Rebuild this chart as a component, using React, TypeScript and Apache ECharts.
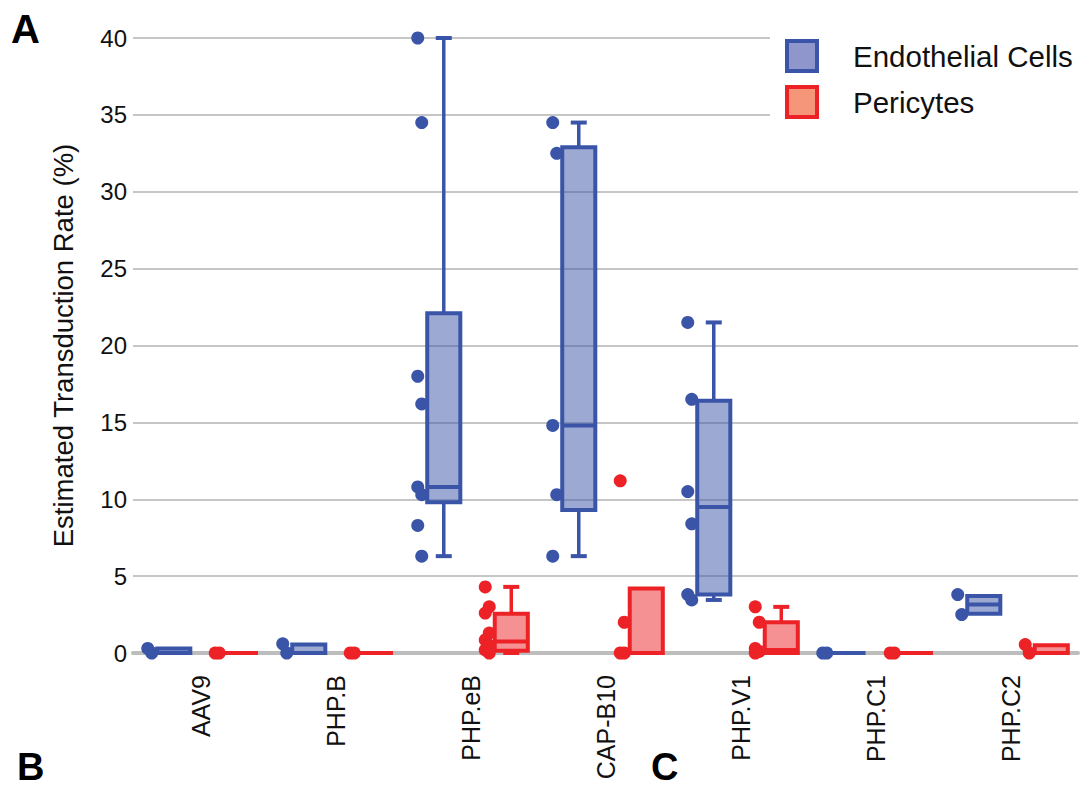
import React, { useEffect, useRef } from "react";
import * as echarts from "echarts";

// Capsid variants on the x axis
const categories = ["AAV9", "PHP.B", "PHP.eB", "CAP-B10", "PHP.V1", "PHP.C1", "PHP.C2"];

// Box summaries per variant: [min, q1, median, q3, max] (%)
const endothelialBoxes = [
  [0, 0, 0, 0.3, 0.3],
  [0, 0, 0, 0.55, 0.55],
  [6.3, 9.8, 10.8, 22.1, 40],
  [6.3, 9.3, 14.8, 32.9, 34.5],
  [3.45, 3.8, 9.5, 16.4, 21.5],
  [0, 0, 0, 0, 0],
  [2.55, 2.55, 3.15, 3.7, 3.7],
];
const pericyteBoxes = [
  [0, 0, 0, 0, 0],
  [0, 0, 0, 0, 0],
  [0, 0.15, 0.75, 2.55, 4.3],
  [0, 0, 0, 4.2, 4.2],
  [0, 0, 0.2, 2.0, 3.0],
  [0, 0, 0, 0, 0],
  [0, 0, 0, 0.5, 0.5],
];

// Individual measurements per variant (%)
const endothelialPoints = [
  [0.3, 0],
  [0.6, 0],
  [40, 34.5, 18, 16.2, 10.8, 10.3, 8.3, 6.3],
  [34.5, 32.5, 14.8, 10.3, 6.3],
  [21.5, 16.5, 10.5, 8.4, 3.8, 3.45],
  [0, 0],
  [3.8, 2.5],
];
const pericytePoints = [
  [0, 0],
  [0, 0],
  [4.3, 3.0, 2.6, 1.3, 0.85, 0.5, 0.2, 0],
  [11.2, 2.0, 0, 0],
  [3.0, 2.0, 0.3, 0.1, 0],
  [0, 0],
  [0.55, 0],
];

const yMin = 0;
const yMax = 40;
const yStep = 5;

const FONT = "'Liberation Sans', Arial, Helvetica, sans-serif";
const BLUE = "#3a55a8";
const BLUE_FILL = "rgba(58,85,168,0.5)";
const RED = "#ec2227";
const RED_FILL = "rgba(236,34,39,0.5)";

// side: -1 for the left group (endothelial), +1 for the right group (pericytes)
function makeBoxRenderer(side: number, stroke: string, fill: string) {
  return (_params: any, api: any) => {
    const idx = api.value(0);
    const band = api.size([1, 0])[0];
    const cx = api.coord([idx, 0])[0] + (side * band) / 4 + band * 0.052;
    const w = band * 0.245;
    const yOf = (v: number) => api.coord([idx, v])[1];
    const vMin = api.value(1);
    const q1 = api.value(2);
    const med = api.value(3);
    const q3 = api.value(4);
    const vMax = api.value(5);
    const capHalf = 8;
    const children: any[] = [];
    if (vMax > q3) {
      children.push({
        type: "line",
        shape: { x1: cx, y1: yOf(q3), x2: cx, y2: yOf(vMax) },
        style: { stroke, lineWidth: 3.5 },
      });
      children.push({
        type: "line",
        shape: { x1: cx - capHalf, y1: yOf(vMax), x2: cx + capHalf, y2: yOf(vMax) },
        style: { stroke, lineWidth: 4 },
      });
    }
    if (vMin < q1) {
      children.push({
        type: "line",
        shape: { x1: cx, y1: yOf(q1), x2: cx, y2: yOf(vMin) },
        style: { stroke, lineWidth: 3.5 },
      });
      children.push({
        type: "line",
        shape: { x1: cx - capHalf, y1: yOf(vMin), x2: cx + capHalf, y2: yOf(vMin) },
        style: { stroke, lineWidth: 4 },
      });
    }
    const top = yOf(q3);
    const bottom = yOf(q1);
    children.push({
      type: "rect",
      shape: { x: cx - w / 2, y: top, width: w, height: bottom - top },
      style: { fill, stroke, lineWidth: 4 },
    });
    children.push({
      type: "line",
      shape: { x1: cx - w / 2, y1: yOf(med), x2: cx + w / 2, y2: yOf(med) },
      style: { stroke, lineWidth: 4 },
    });
    return { type: "group", children };
  };
}

function makePointRenderer(side: number, color: string) {
  return (_params: any, api: any) => {
    const idx = api.value(0);
    const j = api.value(2);
    const band = api.size([1, 0])[0];
    const base = api.coord([idx, api.value(1)]);
    const jitter = j % 2 === 0 ? -2 : 2;
    const cx = base[0] + (side * band) / 4 - band * 0.126 + jitter;
    return {
      type: "circle",
      shape: { cx, cy: base[1], r: 6.5 },
      style: { fill: color },
    };
  };
}

function boxData(boxes: number[][]) {
  return boxes.map((b, i) => [i, ...b]);
}

function pointData(points: number[][]) {
  const out: number[][] = [];
  points.forEach((vals, i) => vals.forEach((v, j) => out.push([i, v, j])));
  return out;
}

// Panel letters, placed by their vertical centre
const panelLetter = (text: string, x: number, y: number, size: number) => ({
  type: "text",
  x,
  y,
  style: {
    text,
    fontSize: size,
    fontWeight: "bold",
    fill: "#000",
    fontFamily: FONT,
    align: "left",
    verticalAlign: "middle",
  },
});

export default function App() {
  const ref = useRef<HTMLDivElement>(null);

  useEffect(() => {
    if (!ref.current) return;
    const chart = echarts.init(ref.current, undefined, { renderer: "svg" });
    chart.setOption({
      animation: false,
      backgroundColor: "#ffffff",
      textStyle: { fontFamily: FONT },
      grid: { left: 133, right: 4, top: 38, bottom: 135, containLabel: false },
      legend: {
        orient: "vertical",
        left: 770,
        top: 24,
        padding: [15, 8, 12, 15],
        backgroundColor: "#ffffff",
        itemWidth: 30,
        itemHeight: 30,
        itemGap: 12,
        icon: "rect",
        selectedMode: false,
        textStyle: { fontSize: 29.5, color: "#111", fontFamily: FONT, padding: [0, 0, 0, 31] },
        data: [
          { name: "Endothelial Cells", itemStyle: { color: "#8f96cb", borderColor: BLUE, borderWidth: 4 } },
          { name: "Pericytes", itemStyle: { color: "#f5957a", borderColor: RED, borderWidth: 4 } },
        ],
      },
      xAxis: {
        type: "category",
        data: categories,
        boundaryGap: true,
        axisLine: { show: true, lineStyle: { color: "#bdbdbd", width: 4 } },
        axisTick: { show: false },
        axisLabel: { rotate: 90, fontSize: 25, color: "#111", margin: 22, fontFamily: FONT },
        splitLine: { show: false },
      },
      yAxis: {
        type: "value",
        min: yMin,
        max: yMax,
        interval: yStep,
        name: "Estimated Transduction Rate (%)",
        nameLocation: "middle",
        nameRotate: 90,
        nameGap: 56,
        nameTextStyle: { fontSize: 27.5, color: "#111", fontFamily: FONT },
        axisLine: { show: false },
        axisTick: { show: false },
        axisLabel: { fontSize: 24, color: "#111", margin: 6, fontFamily: FONT },
        splitLine: { show: true, lineStyle: { color: "#c6c6c6", width: 2 } },
      },
      series: [
        {
          name: "Endothelial Cells",
          type: "custom",
          renderItem: makeBoxRenderer(-1, BLUE, BLUE_FILL),
          encode: { x: 0, y: [1, 2, 3, 4, 5] },
          data: boxData(endothelialBoxes),
        },
        {
          name: "Pericytes",
          type: "custom",
          renderItem: makeBoxRenderer(1, RED, RED_FILL),
          encode: { x: 0, y: [1, 2, 3, 4, 5] },
          data: boxData(pericyteBoxes),
        },
        {
          name: "Endothelial Cells",
          type: "custom",
          renderItem: makePointRenderer(-1, BLUE),
          encode: { x: 0, y: 1 },
          data: pointData(endothelialPoints),
        },
        {
          name: "Pericytes",
          type: "custom",
          renderItem: makePointRenderer(1, RED),
          encode: { x: 0, y: 1 },
          data: pointData(pericytePoints),
        },
      ],
      graphic: [
        panelLetter("A", 11, 29, 40),
        panelLetter("B", 17, 767, 38),
        panelLetter("C", 651, 767, 38),
      ],
    });
    return () => chart.dispose();
  }, []);

  return (
    <div
      ref={ref}
      style={{ position: "fixed", left: 0, top: 0, width: 1082, height: 788, background: "#fff" }}
    />
  );
}
